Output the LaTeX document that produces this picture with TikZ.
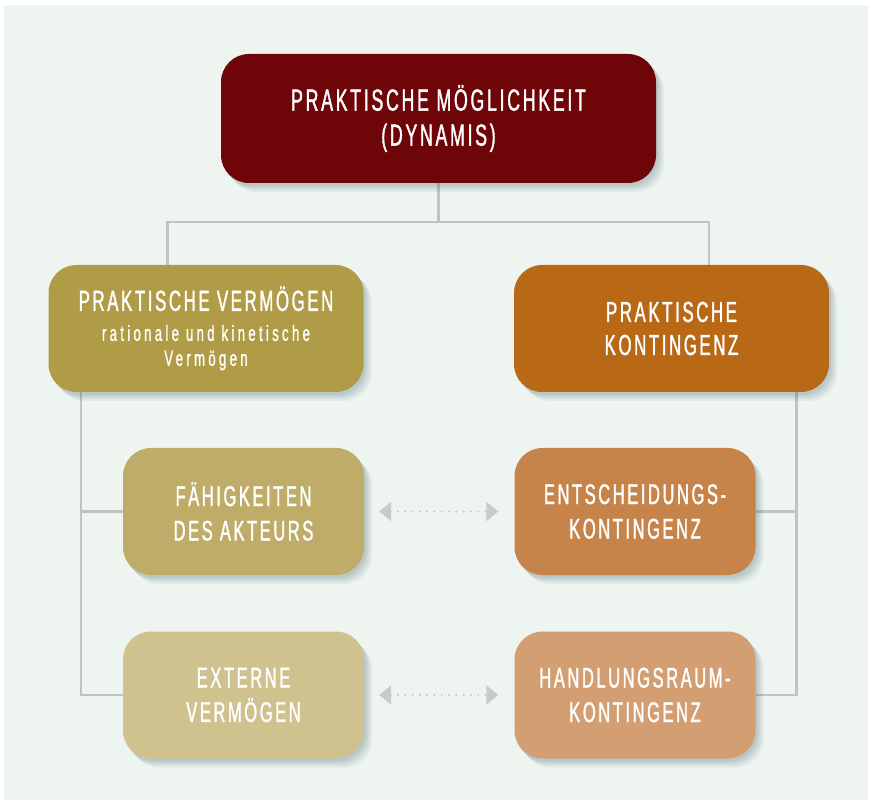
\documentclass[tikz,border=0pt]{standalone}
\usepackage{fontspec}
\setmainfont{Liberation Sans}
\newfontfamily\boxfont[FakeStretch=0.58,LetterSpace=9,FakeBold=1.2]{Liberation Sans}
\newfontfamily\subboxfont[FakeStretch=0.6,LetterSpace=15,FakeBold=1]{Liberation Sans}
\usetikzlibrary{arrows.meta,calc}
\pgfdeclarelayer{bg}
\pgfsetlayers{bg,main}
\definecolor{pagec}{HTML}{EEF4F0}
\definecolor{linec}{HTML}{BCC4C4}
\definecolor{arrc}{HTML}{C6CCCC}
\definecolor{shadowc}{HTML}{4F6F78}
\definecolor{topc}{HTML}{6E0509}
\definecolor{pvc}{HTML}{B09B47}
\definecolor{pkc}{HTML}{B96816}
\definecolor{fac}{HTML}{BFAC68}
\definecolor{evc}{HTML}{CFC28E}
\definecolor{ekc}{HTML}{C6844A}
\definecolor{hkc}{HTML}{D49E73}
\tikzset{
  box/.style={rectangle, rounded corners=28pt, text=white, align=center, inner sep=0pt,
    preaction={fill=shadowc, opacity=0.10, transform canvas={shift={(2pt,-3pt)}}},
    preaction={fill=shadowc, opacity=0.10, transform canvas={shift={(4pt,-5pt)}}},
    preaction={fill=shadowc, opacity=0.09, transform canvas={shift={(6pt,-7pt)}}},
    preaction={fill=shadowc, opacity=0.07, transform canvas={shift={(8pt,-9pt)}}}},
  bigbox/.style={box, minimum width=435pt, minimum height=129pt,
    font=\boxfont\fontsize{30.5}{35}\selectfont},
  midbox/.style={box, minimum width=315pt, minimum height=127pt,
    font=\boxfont\fontsize{29}{33}\selectfont},
  smallbox/.style={box, minimum width=241pt, minimum height=127pt,
    font=\boxfont\fontsize{28.5}{34.5}\selectfont},
  conn/.style={draw=linec, line width=2.4pt},
  biarrow/.style={draw=arrc, line width=2.4pt, line cap=round,
    dash pattern=on 0pt off 7.3pt,
    {Triangle[length=12pt,width=19pt]}-{Triangle[length=12pt,width=19pt]}},
}
\begin{document}
\begin{tikzpicture}[x=1pt,y=-1pt]
\useasboundingbox (0,0) rectangle (871,802);
\begin{pgfonlayer}{bg}
  \fill[white] (0,0) rectangle (871,802);
  \fill[pagec] (4,5) rectangle (868,800);
\end{pgfonlayer}

\node[bigbox, fill=topc] (top) at (438.5,118.5) {PRAKTISCHE MÖGLICHKEIT\\(DYNAMIS)};
\node[midbox, fill=pvc] (pv) at (206,328.5)
  {PRAKTISCHE VERMÖGEN\\[-3pt]{\subboxfont\fontsize{22}{22}\selectfont rationale und kinetische}\\[-8pt]{\subboxfont\fontsize{22}{22}\selectfont Vermögen}};
\node[midbox, fill=pkc] (pk) at (671.5,328.5) {PRAKTISCHE\\KONTINGENZ};
\node[smallbox, fill=fac] (fa) at (243.5,511.5) {FÄHIGKEITEN\\DES AKTEURS};
\node[smallbox, fill=ekc] (ek) at (635,511.5) {ENTSCHEIDUNGS-\\KONTINGENZ};
\node[smallbox, fill=evc] (ev) at (243.5,695) {EXTERNE\\VERMÖGEN};
\node[smallbox, fill=hkc] (hk) at (635,695) {HANDLUNGSRAUM-\\KONTINGENZ};

\coordinate (hl) at (167.5,222);
\coordinate (hr) at (709,222);
\coordinate (lx) at (81,0);
\coordinate (rx) at (796.5,0);

\begin{pgfonlayer}{bg}
  \draw[conn] (top.south) -- (top.south |- hl);
  \draw[conn] (pv.north -| hl) -- (hl) -- (hr) -- (pk.north -| hr);
  \draw[conn] (pv.south -| lx) |- (ev.west);
  \draw[conn] (fa.west -| lx) -- (fa.west);
  \draw[conn] (pk.south -| rx) |- (hk.east);
  \draw[conn] (ek.east) -- (ek.east -| rx);
\end{pgfonlayer}

\draw[biarrow, shorten <=15pt, shorten >=16pt] (fa.east) -- (ek.west);
\draw[biarrow, shorten <=15pt, shorten >=16pt] (ev.east) -- (hk.west);
\end{tikzpicture}
\end{document}
